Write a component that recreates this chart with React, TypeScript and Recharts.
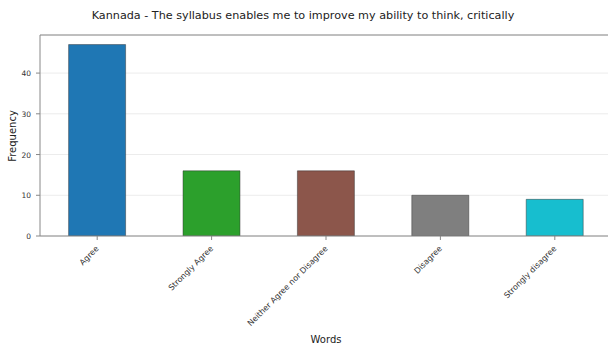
import React from "react";
import { BarChart, Bar, XAxis, YAxis, CartesianGrid, Cell, ReferenceLine } from "recharts";

const categories = ["Agree", "Strongly Agree", "Neither Agree nor Disagree", "Disagree", "Strongly disagree"];
const frequencies = [47, 16, 16, 10, 9];
const colors = ["#1f77b4", "#2ca02c", "#8c564b", "#7f7f7f", "#17becf"];
const yTicks = [0, 10, 20, 30, 40];
const title = "Kannada - The syllabus enables me to improve my ability to think, critically";

const data = categories.map((c, i) => ({ name: c, value: frequencies[i] }));
const FONT = "DejaVu Sans, sans-serif";

const XTick = (props: any) => {
  const { x, y, payload } = props;
  return (
    <g transform={`translate(${x},${y + 5})`}>
      <text transform="rotate(-45)" textAnchor="end" x={0} y={0} dy={3} fontSize={8} fill="#333" fontFamily={FONT}>
        {payload.value}
      </text>
    </g>
  );
};

const YTick = (props: any) => {
  const { x, y, payload } = props;
  return (
    <text x={x - 3} y={y} dy={3} textAnchor="end" fontSize={7.5} fill="#333" fontFamily={FONT}>
      {payload.value}
    </text>
  );
};

export default function App() {
  return (
    <div style={{ position: "absolute", left: 0, top: 0, width: 608, height: 349, overflow: "hidden", background: "#fff" }}>
      <svg width={608} height={349} style={{ position: "absolute", left: 0, top: 0 }}>
        <text x={303} y={19} textAnchor="middle" fontSize={11.2} fill="#222" fontFamily={FONT}>{title}</text>
        <text x={326} y={343} textAnchor="middle" fontSize={10} fill="#222" fontFamily={FONT}>Words</text>
        <text x={16} y={136} textAnchor="middle" fontSize={10} fill="#222" fontFamily={FONT} transform="rotate(-90 16 136)">Frequency</text>
      </svg>
      <div style={{ position: "absolute", left: 0, top: 0 }}>
        <BarChart width={620} height={349} data={data} margin={{ top: 35, right: 8, bottom: 0, left: 0 }} barCategoryGap="25%">
          <CartesianGrid vertical={false} stroke="#ececec" strokeWidth={1} />
          <XAxis dataKey="name" height={113} interval={0} tick={<XTick />} tickSize={4} stroke="#888" tickLine={{ stroke: "#888" }} />
          <YAxis width={40} domain={[0, 49.35]} ticks={yTicks} tick={<YTick />} tickSize={4} stroke="#888" tickLine={{ stroke: "#888" }} allowDataOverflow />
          <ReferenceLine y={49.35} stroke="#888" strokeWidth={1} ifOverflow="extendDomain" />
          <Bar dataKey="value" isAnimationActive={false} stroke="#333" strokeWidth={0.8} strokeOpacity={0.6}>
            {data.map((d, i) => (
              <Cell key={d.name} fill={colors[i]} />
            ))}
          </Bar>
        </BarChart>
      </div>
    </div>
  );
}
